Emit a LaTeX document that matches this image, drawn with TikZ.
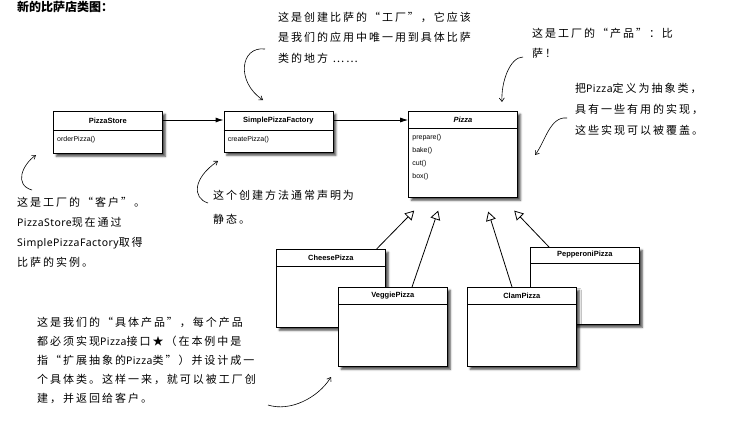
\documentclass[tikz,border=0pt]{standalone}
\usepackage{fontspec}
\setmainfont{Liberation Sans}
\newfontfamily\hand{Noto Sans CJK SC}[LetterSpace=18]
\newfontfamily\handlatin{Noto Sans}[LetterSpace=4]
\newfontfamily\titlecjk{Noto Sans CJK SC}
\usepackage{tikz}
\usetikzlibrary{arrows.meta, positioning, shadows.blur}
\newcommand{\lat}[1]{{\handlatin\fontsize{10.5}{20}\selectfont #1}}
% name, placement, height, header height, title, methods
\newcommand{\umlclass}[6]{%
  \node[cls, minimum height=#3, #2] (#1) {};
  \draw[line width=0.6pt] ([yshift=-#4]#1.north west) -- ([yshift=-#4]#1.north east);
  \node[ctitle] at ([yshift=-#4/2]#1.north) {#5};
  \node[cmeth] at ([xshift=4pt,yshift=-#4-6pt]#1.north west) {#6};
}

\begin{document}
\begin{tikzpicture}[x=1pt, y=-1pt,
  cls/.style={draw, line width=0.6pt, fill=white, minimum width=109pt, inner sep=0pt, anchor=north west,
    blur shadow={shadow xshift=3pt, shadow yshift=-3pt, shadow blur radius=2pt, shadow opacity=70}},
  ctitle/.style={font=\fontsize{7.5}{9}\selectfont\bfseries, inner sep=0pt},
  cmeth/.style={font=\fontsize{7}{13}\selectfont, align=left, anchor=north west, inner sep=0pt},
  note/.style={font=\hand\fontsize{11}{#1}\selectfont, align=left, anchor=north west, inner sep=0pt},
  note/.default=20.5,
  assoc/.style={-{Latex[length=8pt,width=5pt]}, line width=0.9pt},
  inherit/.style={-{Triangle[open, length=9pt, width=10pt]}, line width=0.8pt},
  hand arrow/.style={-{Straight Barb[length=3.5pt,width=5pt]}, line width=0.6pt}
]
\useasboundingbox (0,0) rectangle (735,424);

\node[font=\titlecjk\bfseries\fontsize{12}{12}\selectfont, anchor=west, inner sep=0pt] (title) at (17,6.5) {新的比萨店类图：};

% classes
\umlclass{store}{at={(53,111)}}{42pt}{19pt}{PizzaStore}{orderPizza()}
\umlclass{factory}{right=61pt of store.north east, anchor=north west}{41pt}{19pt}{SimplePizzaFactory}{createPizza()}
\umlclass{pizza}{right=75pt of factory.north east, anchor=north west}{86pt}{17pt}{\itshape Pizza}{prepare()\\bake()\\cut()\\box()}
\umlclass{cheese}{at={(276,249)}}{78pt}{17pt}{CheesePizza}{}
\umlclass{veggie}{at={(338,287)}}{79pt}{17pt}{VeggiePizza}{}
\umlclass{pepperoni}{at={(530,247)}}{77pt}{16pt}{PepperoniPizza}{}
\umlclass{clam}{at={(467,287)}}{79pt}{17pt}{ClamPizza}{}

\draw[assoc] ([yshift=-9pt]store.north east) -- ([yshift=-9pt]factory.north west);
\draw[assoc] ([yshift=-9pt]factory.north east) -- ([yshift=-9pt]pizza.north west);

\coordinate (tipcheese) at ([xshift=6pt,yshift=-13pt]pizza.south west);
\coordinate (tipveggie) at ([xshift=30pt,yshift=-13pt]pizza.south west);
\coordinate (tipclam) at ([xshift=80pt,yshift=-14pt]pizza.south west);
\coordinate (tippep) at ([xshift=106pt,yshift=-13pt]pizza.south west);
\draw[inherit] ([xshift=-9pt]cheese.north east) -- (tipcheese);
\draw[inherit] ([xshift=74pt]veggie.north west) -- (tipveggie);
\draw[inherit] ([xshift=45pt]clam.north west) -- (tipclam);
\draw[inherit] ([xshift=19pt]pepperoni.north west) -- (tippep);

% notes
\node[note] (nfactory) at (278,11.5) {这是创建比萨的“工厂”，它应该\\是我们的应用中唯一用到具体比萨\\类的地方 ……};
\node[note=20] (nproduct) at (532,27.5) {这是工厂的“产品”：比\\萨！};
\node[note=21] (nabstract) at (575,82.5) {把\lat{Pizza}定义为抽象类，\\具有一些有用的实现，\\这些实现可以被覆盖。};
\node[note=20.3] (nclient) at (17,196.5) {这是工厂的“客户”。\\\lat{PizzaStore}现在通过\\\lat{SimplePizzaFactory}取得\\比萨的实例。};
\node[note=24] (nstatic) at (213,189.5) {这个创建方法通常声明为\\静态。};
\node[note=19] (nconcrete) at (37,316.5) {这是我们的“具体产品”，每个产品\\都必须实现\lat{Pizza}接口★（在本例中是\\指“扩展抽象的\lat{Pizza}类”）并设计成一\\个具体类。这样一来，就可以被工厂创\\建，并返回给客户。};

\coordinate (a1) at (265,49);  \coordinate (a1t) at (263,100);
\coordinate (b1) at (523,57);  \coordinate (b1t) at (502,102);
\coordinate (c1) at (567,118); \coordinate (c1t) at (535,155);
\coordinate (d1) at (32,190);  \coordinate (d1t) at (36,155);
\coordinate (e1) at (208,203); \coordinate (e1t) at (218,161);
\coordinate (f1) at (268,405); \coordinate (f1t) at (331,377);
\draw[hand arrow] (a1) .. controls (240,46) and (236,82) .. (a1t);
\draw[hand arrow] (b1) .. controls (510,57) and (501,82) .. (b1t);
\draw[hand arrow] (c1) .. controls (550,116) and (545,142) .. (c1t);
\draw[hand arrow] (d1) .. controls (14,185) and (22,165) .. (d1t);
\draw[hand arrow] (e1) .. controls (192,198) and (193,178) .. (e1t);
\draw[hand arrow] (f1) .. controls (290,412) and (318,398) .. (f1t);
\end{tikzpicture}
\end{document}
